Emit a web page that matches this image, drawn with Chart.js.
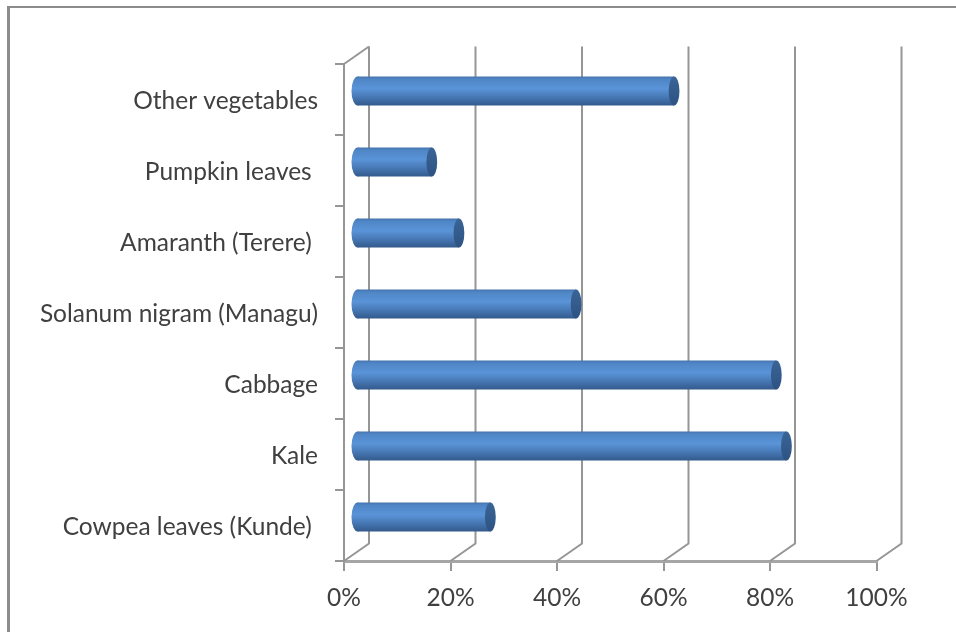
<!DOCTYPE html>
<html>
<head>
<meta charset="utf-8">
<title>Vegetables</title>
<script src="https://cdn.jsdelivr.net/npm/chart.js@4"></script>
<style>
    html, body { margin: 0; padding: 0; background: #fff; overflow: hidden; }
    #frame { position: absolute; left: 7px; top: 6px; width: 1000px; height: 700px; border-left: 3px solid #8c8c8c; border-top: 2px solid #8c8c8c; }
    #grafico { position: absolute; left: 0; top: 0; }
</style>
</head>
<body>
<div id="frame"></div>
<canvas id="grafico" width="956" height="632"></canvas>
<script>
const categorias = ['Other vegetables', 'Pumpkin leaves ', 'Amaranth (Terere) ', 'Solanum nigram (Managu)', 'Cabbage', 'Kale', 'Cowpea leaves (Kunde) '];
const valores = [59.6, 14.1, 19.2, 41.2, 78.8, 80.7, 25.1];
const ticksX = [0, 20, 40, 60, 80, 100];

const corLinha = '#969696';
const corTexto = '#404040';
const profX = 25, profY = 17.5;      // depth of the 3D walls
const barraX = 12.7, barraY = -8.5;  // bars sit half way into the depth
const altBarra = 29;
const raioTampa = 5.4;

// vertical gradient of the cylinder, one per bar
function gradiente(ctx, yc) {
    const g = ctx.createLinearGradient(0, yc - altBarra / 2, 0, yc + altBarra / 2);
    g.addColorStop(0, '#4674ae');
    g.addColorStop(0.1, '#4f86c6');
    g.addColorStop(0.42, '#5a94d8');
    g.addColorStop(0.72, '#4677b3');
    g.addColorStop(1, '#335a8c');
    return g;
}

function gradienteBarra(context) {
    const chart = context.chart;
    if (!chart.chartArea || context.dataIndex === undefined) return '#4f81bd';
    return gradiente(chart.ctx, chart.scales.y.getPixelForValue(context.dataIndex));
}

// back wall and floor lines, drawn behind the bars
const paredes3d = {
    id: 'paredes3d',
    beforeDatasetsDraw(chart) {
        const { ctx, chartArea, scales } = chart;
        ctx.save();
        ctx.strokeStyle = corLinha;
        ctx.lineWidth = 2;
        ticksX.forEach(t => {
            const x = scales.x.getPixelForValue(t);
            ctx.beginPath();
            ctx.moveTo(x, chartArea.bottom);
            ctx.lineTo(x + profX, chartArea.bottom - profY);
            ctx.lineTo(x + profX, chartArea.top - profY);
            ctx.stroke();
        });
        ctx.beginPath();
        ctx.moveTo(chartArea.left, chartArea.top);
        ctx.lineTo(chartArea.left + profX, chartArea.top - profY);
        ctx.stroke();
        ctx.restore();
    }
};

// moves the bars into the depth and adds the rounded ends
const cilindros = {
    id: 'cilindros',
    beforeDatasetDraw(chart, args) {
        const ctx = chart.ctx;
        ctx.save();
        ctx.translate(barraX, barraY);
        args.meta.data.forEach(bar => {
            ctx.fillStyle = gradiente(ctx, bar.y);
            ctx.beginPath();
            ctx.ellipse(bar.base, bar.y, raioTampa + 0.8, altBarra / 2, 0, 0, Math.PI * 2);
            ctx.fill();
        });
    },
    afterDatasetDraw(chart, args) {
        const ctx = chart.ctx;
        args.meta.data.forEach(bar => {
            const g = ctx.createLinearGradient(0, bar.y - altBarra / 2, 0, bar.y + altBarra / 2);
            g.addColorStop(0, '#3a6596');
            g.addColorStop(1, '#2d5283');
            ctx.fillStyle = g;
            ctx.beginPath();
            ctx.ellipse(bar.x, bar.y, raioTampa, altBarra / 2, 0, 0, Math.PI * 2);
            ctx.fill();
        });
        ctx.restore();
    }
};

new Chart(document.getElementById('grafico').getContext('2d'), {
    type: 'bar',
    data: {
        labels: categorias,
        datasets: [{
            data: valores,
            backgroundColor: gradienteBarra,
            borderWidth: 0,
            barPercentage: 29 / 71,
            categoryPercentage: 1,
            clip: false
        }]
    },
    options: {
        indexAxis: 'y',
        responsive: false,
        animation: false,
        layout: { padding: { top: 64, right: 79.5, left: 0, bottom: 0 } },
        plugins: { legend: { display: false }, tooltip: { enabled: false } },
        scales: {
            x: {
                min: 0,
                max: 100,
                afterFit(scale) { scale.height = 71; },
                afterBuildTicks(scale) { scale.ticks = ticksX.map(v => ({ value: v })); },
                grid: { drawOnChartArea: false, color: corLinha, lineWidth: 2, tickLength: 10 },
                border: { color: '#a6a6a6', width: 3 },
                ticks: {
                    color: corTexto,
                    font: { family: 'Lato', size: 24.5 },
                    padding: 12,
                    maxRotation: 0,
                    callback: v => v + '%'
                }
            },
            y: {
                afterFit(scale) { scale.width = 344; },
                grid: { drawOnChartArea: false, color: corLinha, lineWidth: 2, tickLength: 9 },
                border: { color: corLinha, width: 2 },
                ticks: {
                    color: corTexto,
                    font: { family: 'Lato', size: 24.5 },
                    padding: 17,
                    labelOffset: 2,
                    autoSkip: false
                }
            }
        }
    },
    plugins: [paredes3d, cilindros]
});
</script>
</body>
</html>
